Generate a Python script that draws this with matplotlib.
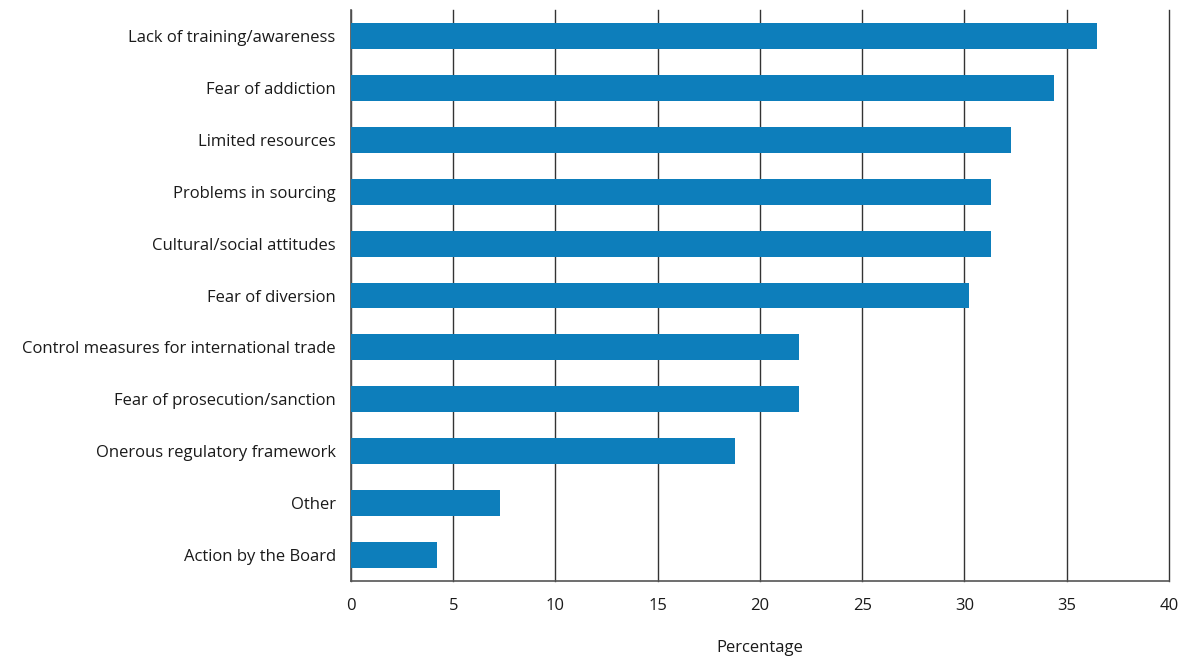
import matplotlib
matplotlib.use("Agg")
import matplotlib.pyplot as plt

plt.rcParams['font.family'] = ['Open Sans', 'DejaVu Sans']

categories = ["Lack of training/awareness", "Fear of addiction", "Limited resources",
              "Problems in sourcing", "Cultural/social attitudes", "Fear of diversion",
              "Control measures for international trade", "Fear of prosecution/sanction",
              "Onerous regulatory framework", "Other", "Action by the Board"]
values = [36.5, 34.4, 32.3, 31.3, 31.3, 30.2, 21.9, 21.9, 18.8, 7.3, 4.2]
xticks = [0, 5, 10, 15, 20, 25, 30, 35, 40]

fig = plt.figure(figsize=(11.81, 6.6), dpi=100)
ax = fig.add_axes([0.2972, 0.1197, 0.6926, 0.8651])

pos = list(range(len(categories)))[::-1]
ax.barh(pos, values, height=0.5, color="#0d7ebb", zorder=3)

ax.set_ylim(-0.5, len(categories) - 0.5)
ax.set_xlim(0, 40)
ax.set_xticks(xticks)
ax.set_yticks(pos)
ax.set_yticklabels(categories, fontsize=12, color="#1a1a1a")
ax.tick_params(axis="x", length=0, pad=12, labelsize=12, labelcolor="#1a1a1a")
ax.tick_params(axis="y", length=0, pad=11)
ax.xaxis.grid(True, color="#333333", linewidth=1, zorder=0)
for gl in ax.get_xgridlines():
    gl.set_clip_on(False)

for s in ["top", "right"]:
    ax.spines[s].set_visible(False)
for s in ["left", "bottom"]:
    ax.spines[s].set_color("#555555")
    ax.spines[s].set_linewidth(1.2)

ax.set_xlabel("Percentage", fontsize=12, color="#1a1a1a", labelpad=19)

fig.savefig("out.png", dpi=100)
